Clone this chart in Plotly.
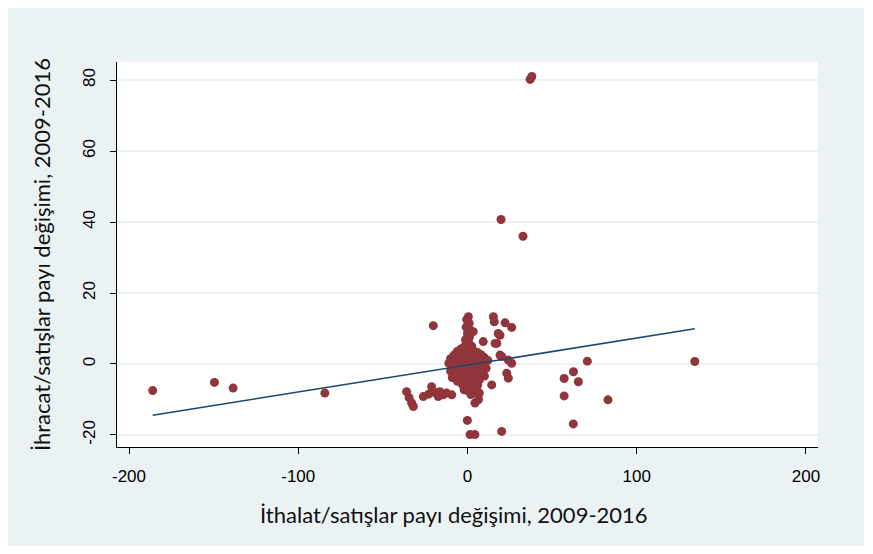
import plotly.graph_objects as go
import numpy as np

# --- data ---
x_outer = [-186, -149.5, -138.5, -84.3, 37, 38, 19.8, 32.8, 134.3, 83, 62.5, 70.8, 57.1, 62.6, 65.5, 57.1]
y_outer = [-7.5, -5.2, -6.8, -8.2, 80.2, 81, 40.7, 36, 0.7, -10.1, -16.9, 0.8, -4.1, -2.2, -5.0, -9.0]

x_upper = [-20.2, 15.3, 15.8, 22.2, 26.1, 19.2, 16.3, 9.3, 3.4, 19.2, 24.1, 26.1, 20.2, 23.2, 24.1, 14.3, 18.2, 17.3,
           0.5, -0.5, 1.0, -0.8, 1.5, 0.0, 1.2, -1.2, 0.8, 2.5]
y_upper = [10.8, 13.3, 11.9, 11.6, 10.3, 8.1, 5.8, 6.3, 9.1, 2.5, 1.1, 0.2, 2.1, -2.6, -4.0, -5.9, 8.6, 5.8,
           13.3, 12.5, 11.5, 10.4, 9.6, 8.6, 7.6, 6.8, 5.8, 5.0]

x_core = [-10, -8, -6, -4, -2, 2, 4, 6, 8, 10, 12,
          -11, -9, -7, -5, -3, -1, 1, 3, 5, 7, 9, 11,
          -10, -8, -6, -4, -2, 0, 2, 4, 6, 8, 10,
          -9, -7, -5, -3, -1, 1, 3, 5, 7,
          -6, -4, -2, 0, 2, 4, 6,
          -3, -1, 1, 3, 5, 0, 2, -2, 7]
y_core = [1.5, 2.5, 3.5, 4.2, 4.8, 4.3, 3.6, 3.2, 2.6, 1.8, 1.0,
          0.2, -0.5, 0.8, 1.9, 2.8, 3.4, 2.4, 1.6, 0.7, 0.1, -0.6, -1.2,
          -2.0, -1.3, -0.3, 0.6, 1.3, 0.4, -0.6, -1.5, -2.3, -3.0, -3.4,
          -3.8, -3.0, -2.1, -1.2, -0.3, -1.8, -2.8, -3.7, -4.5,
          -4.9, -4.0, -3.2, -2.4, -4.1, -5.2, -6.0,
          -5.8, -5.0, -6.2, -7.0, -7.8, -7.5, -8.6, -7.3, -8.2]

x_lower = [-36, -34.5, -33, -32, -26.1, -21.2, -14.3, -9.3, -17.3, -12.3, -16.3, -23, -19.5,
           4.4, -0.1, 4.4, 1.5, 20.2, 6.5]
y_lower = [-7.8, -9.5, -11, -12, -9.2, -6.4, -8.7, -8.7, -9.2, -8.2, -7.8, -8.5, -8.0,
           -11, -15.9, -19.9, -19.9, -19, -10]

fit_intercept = -0.3
fit_slope = 0.076

x_ticks = [-200, -100, 0, 100, 200]
x_tick_labels = ["-200", "-100", "0", "100", "200"]
y_ticks = [-20, 0, 20, 40, 60, 80]
y_tick_labels = ["-20", "0", "20", "40", "60", "80"]

x_title = "İthalat/satışlar payı değişimi, 2009-2016"
y_title = "İhracat/satışlar payı değişimi, 2009-2016"

# --- build ---
xs = np.array(x_outer + x_upper + x_core + x_lower, dtype=float)
ys = np.array(y_outer + y_upper + y_core + y_lower, dtype=float)
line_x = np.array([xs.min(), xs.max()])
line_y = fit_intercept + fit_slope * line_x

bg = "#eaf2f3"
fig = go.Figure()
fig.add_trace(go.Scatter(x=xs, y=ys, mode="markers",
                         marker=dict(color="#90353b", size=9, line=dict(width=0)),
                         showlegend=False))
fig.add_trace(go.Scatter(x=line_x, y=line_y, mode="lines",
                         line=dict(color="#1a476f", width=1.6), showlegend=False))

tick_font = dict(family="Liberation Sans, Arial, sans-serif", size=17, color="#000")
title_font = dict(family="Lato, sans-serif", size=22, color="#111")

fig.update_layout(
    width=856, height=538,
    paper_bgcolor=bg, plot_bgcolor="white",
    margin=dict(l=109, r=46, t=54, b=99),
    xaxis=dict(range=[-207.1, 207.1], tickvals=x_ticks, ticktext=x_tick_labels,
               ticks="outside", ticklen=6, ticklabelstandoff=8,
               tickcolor="black", showline=True, linecolor="black", linewidth=1,
               showgrid=False, zeroline=False, tickfont=tick_font),
    yaxis=dict(range=[-23.4, 85.1], tickvals=y_ticks, ticktext=y_tick_labels,
               ticks="outside", ticklen=6, ticklabelstandoff=8,
               tickcolor="black", showline=True, linecolor="black", linewidth=1,
               showgrid=True, gridcolor=bg, gridwidth=2, zeroline=False,
               tickangle=-90, tickfont=tick_font),
    annotations=[
        dict(text=x_title, xref="paper", yref="paper", x=0.4807, y=-0.1766,
             xanchor="center", yanchor="middle", showarrow=False, font=title_font),
        dict(text=y_title, xref="paper", yref="paper", x=-0.107, y=0.5013,
             xanchor="center", yanchor="middle", showarrow=False, font=title_font,
             textangle=-90),
    ],
)
fig.write_html("out.html")
